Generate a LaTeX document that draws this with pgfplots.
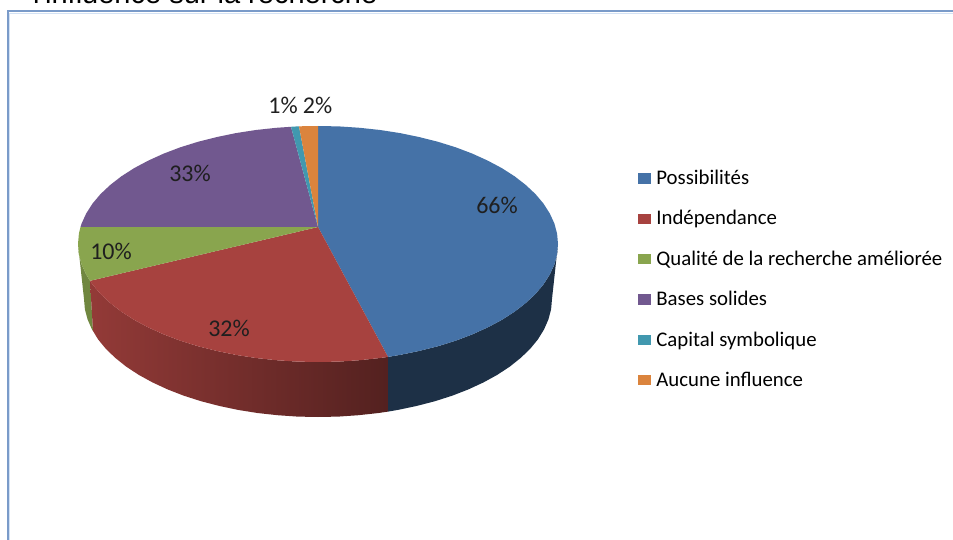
\documentclass[border=0pt]{standalone}
\usepackage{fontspec}
\setmainfont{Carlito}
\newfontfamily\arialfont{Liberation Sans}
\usepackage{pgfplots}
\pgfplotsset{compat=1.18}
\definecolor{cblue}{HTML}{4572A7}
\definecolor{cred}{HTML}{A7423F}
\definecolor{cgreen}{HTML}{89A54E}
\definecolor{cpurple}{HTML}{71588F}
\definecolor{cteal}{HTML}{4198AF}
\definecolor{corange}{HTML}{DB843D}
\definecolor{cframe}{HTML}{7A9BC9}
\definecolor{cframeb}{HTML}{D3E2F5}
\begin{document}
\begin{tikzpicture}[x=1pt,y=1pt]
\path[use as bounding box] (0,0) rectangle (953pt,540pt);
\clip (0,0) rectangle (953pt,540pt);
\begin{axis}[
  at={(0,0)}, anchor=south west,
  width=953pt, height=540pt, scale only axis,
  xmin=0, xmax=953, ymin=0, ymax=540, y dir=reverse,
  hide axis, clip=false,
  legend style={at={(axis cs:638,168)}, anchor=north west, draw=none, fill=none,
    font=\fontsize{20.8}{24}\selectfont, row sep=20.4pt, inner sep=0pt,
    /tikz/every odd column/.append style={column sep=3.2pt},
    /tikz/every even column/.append style={column sep=0pt}},
  legend cell align=left,
  legend image code/.code={\path[#1,draw=none] (0pt,-5.5pt) rectangle (13pt,5pt);},
]
% frame
\addplot[cframeb, line width=1pt, forget plot] coordinates {(9.8,540) (9.8,13.2) (953,13.2)};
\addplot[cframe, line width=2.4pt, forget plot] coordinates {(8,540) (8,11.3) (953,11.3)};
% sides
\addplot[draw=none, fill=cgreen!82!black, forget plot] coordinates {
(78,244) (78.9,254.3) (81.6,264.5) (86.2,274.5) (90,280.8) (93,331) (92,329.5) (87.6,319.5) (84.9,309.3) (84,299)} --cycle;
\addplot[draw=none, left color=cred!88!black, middle color=cred!72!black, right color=cred!50!black, forget plot] coordinates {
(90,280.8) (92.5,284.4) (100.5,293.9) (110.2,303) (121.4,311.7) (134.2,319.9) (148.3,327.4) (163.7,334.4) (180.3,340.7) (198,346.2) (216.6,350.9) (235.9,354.9) (255.9,358) (276.3,360.2) (297.1,361.6) (318,362) (338.9,361.6) (359.7,360.2) (380.1,358) (388,356.9)
(388,411.6) (378.6,413) (358.6,415.2) (338.4,416.6) (318,417) (297.6,416.6) (277.4,415.2) (257.4,413) (238,409.9) (219.1,405.9) (201,401.2) (183.8,395.7) (167.6,389.4) (152.5,382.4) (138.8,374.9) (126.3,366.7) (115.4,358) (105.9,348.9) (98.1,339.4) (93,331)} --cycle;
\addplot[draw=none, fill=cblue!42!black, forget plot] coordinates {
(388,356.9) (400.1,354.9) (419.4,350.9) (438,346.2) (455.7,340.7) (472.3,334.4) (487.7,327.4) (501.8,319.9) (514.6,311.7) (525.8,303) (535.5,293.9) (543.5,284.4) (549.8,274.5) (554.4,264.5) (557.1,254.3) (558,244)
(552,299) (551.1,309.3) (548.4,319.5) (544,329.5) (537.9,339.4) (530.1,348.9) (520.6,358) (509.7,366.7) (497.2,374.9) (483.5,382.4) (468.4,389.4) (452.2,395.7) (435,401.2) (416.9,405.9) (398,409.9) (388,411.6)} --cycle;
% top surfaces
\addplot[draw=none, fill=cblue] coordinates {
(318,126) (338.9,126.4) (359.7,127.8) (380.1,130) (400.1,133.1) (419.4,137.1) (438,141.8) (455.7,147.3) (472.3,153.6) (487.7,160.6) (501.8,168.1) (514.6,176.3) (525.8,185) (535.5,194.1) (543.5,203.6) (549.8,213.5) (554.4,223.5) (557.1,233.7) (558,244) (557.1,254.3) (554.4,264.5) (549.8,274.5) (543.5,284.4) (535.5,293.9) (525.8,303) (514.6,311.7) (501.8,319.9) (487.7,327.4) (472.3,334.4) (455.7,340.7) (438,346.2) (419.4,350.9) (400.1,354.9) (388,356.9) (318,227)} --cycle;
\addlegendentry{Possibilités}
\addplot[draw=none, fill=cred] coordinates {
(388,356.9) (380.1,358) (359.7,360.2) (338.9,361.6) (318,362) (297.1,361.6) (276.3,360.2) (255.9,358) (235.9,354.9) (216.6,350.9) (198,346.2) (180.3,340.7) (163.7,334.4) (148.3,327.4) (134.2,319.9) (121.4,311.7) (110.2,303) (100.5,293.9) (92.5,284.4) (90,280.8) (318,227)} --cycle;
\addlegendentry{Indépendance}
\addplot[draw=none, fill=cgreen] coordinates {
(90,280.8) (86.2,274.5) (81.6,264.5) (78.9,254.3) (78,244) (78.9,233.7) (80.5,227) (318,227)} --cycle;
\addlegendentry{Qualité de la recherche améliorée}
\addplot[draw=none, fill=cpurple] coordinates {
(80.5,227) (81.6,223.5) (86.2,213.5) (92.5,203.6) (100.5,194.1) (110.2,185) (121.4,176.3) (134.2,168.1) (148.3,160.6) (163.7,153.6) (180.3,147.3) (198,141.8) (216.6,137.1) (235.9,133.1) (255.9,130) (276.3,127.8) (291,126.8) (318,227)} --cycle;
\addlegendentry{Bases solides}
\addplot[draw=none, fill=cteal] coordinates {
(291,126.8) (297.1,126.4) (299,126.3) (318,227)} --cycle;
\addlegendentry{Capital symbolique}
\addplot[draw=none, fill=corange] coordinates {
(299,126.3) (318,126) (318,227)} --cycle;
\addlegendentry{Aucune influence}
% labels
\begin{scope}[every node/.style={font=\fontsize{24}{26}\selectfont, text=black!88, inner sep=0pt, anchor=center}]
\node at (axis cs:497,205) {66\%};
\node at (axis cs:229,328) {32\%};
\node at (axis cs:111,251) {10\%};
\node at (axis cs:190,173) {33\%};
\node at (axis cs:283,105) {1\%};
\node at (axis cs:317.5,105) {2\%};
\end{scope}
\node[anchor=base west, inner sep=0pt, font=\arialfont\fontsize{29}{30}\selectfont] at (axis cs:33,4) {l'influence sur la recherche};
\end{axis}
\end{tikzpicture}
\end{document}
